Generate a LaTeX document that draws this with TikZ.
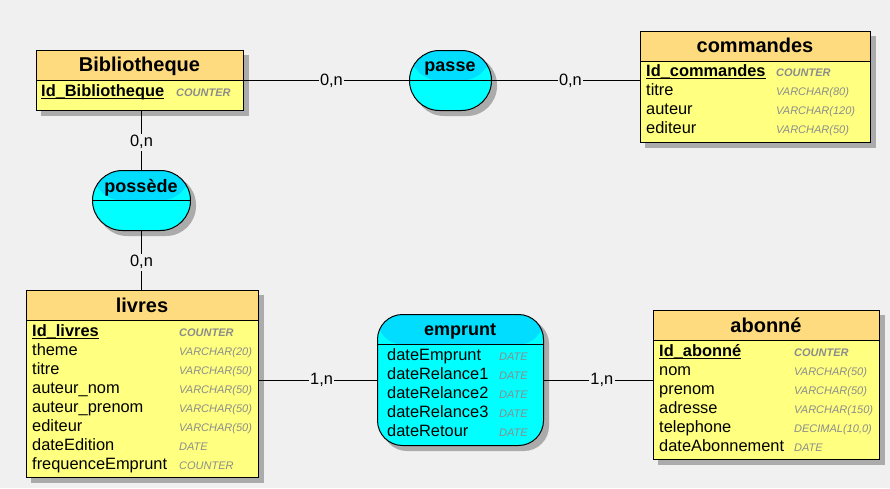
\documentclass[tikz,border=0pt]{standalone}
\usepackage{fontspec}
\setmainfont{Liberation Sans}
\usetikzlibrary{backgrounds}

\definecolor{bg}{HTML}{F0F0F0}
\definecolor{enthdr}{HTML}{FFDB80}
\definecolor{entbody}{HTML}{FFFF80}
\definecolor{relhdr}{HTML}{00DDFF}
\definecolor{relbody}{HTML}{00FFFF}
\definecolor{typegray}{HTML}{8C8C8C}
\definecolor{shadowgray}{HTML}{ABABAB}

\tikzset{
  box/.style={draw=black, line width=1pt, anchor=north west, inner sep=0pt},
  header/.style={path picture={
      \fill[#1] (path picture bounding box.north west)
        rectangle ([yshift=-30pt]path picture bounding box.north east);
      \draw[line width=1pt] ([yshift=-30pt]path picture bounding box.north west)
        -- ([yshift=-30pt]path picture bounding box.north east);}},
  entity/.style={box, fill=entbody, header=enthdr},
  relation/.style={box, fill=relbody, header=relhdr},
  title/.style={anchor=base, inner sep=0pt, font=\fontsize{20}{24}\selectfont\bfseries},
  reltitle/.style={anchor=base, inner sep=0pt, font=\fontsize{18}{22}\selectfont\bfseries},
  attr/.style={anchor=base west, inner sep=0pt, font=\fontsize{16.4}{19}\selectfont},
  keyattr/.style={anchor=base west, inner sep=0pt, font=\fontsize{16.4}{19}\selectfont\bfseries},
  type/.style={anchor=base west, inner sep=0pt, text=typegray, font=\fontsize{11}{13}\selectfont\itshape},
  keytype/.style={anchor=base west, inner sep=0pt, text=typegray, font=\fontsize{11}{13}\selectfont\bfseries\itshape},
  card/.style={fill=bg, inner sep=1.5pt, pos=0.53, font=\fontsize{16.4}{19}\selectfont},
  link/.style={line width=1pt},
  keyline/.style={line width=1.2pt},
  shade/.style={fill=shadowgray},
}

\begin{document}
\begin{tikzpicture}[x=1pt,y=-1pt]
\useasboundingbox (0,0) rectangle (890,488);

% ---------- entities ----------
\node[entity, minimum width=207, minimum height=60] (bib) at (36,50) {};
\node[title] (bibT) at (139.5,71) {Bibliotheque};
\node[keyattr] (bibK) at (41,96) {Id\_Bibliotheque};
\node[keytype] (bibKt) at (176,96) {COUNTER};

\node[entity, minimum width=230, minimum height=111] (cmd) at (640,31) {};
\node[title] (cmdT) at (755,52) {commandes};
\node[keyattr] (cmdK) at (646,76) {Id\_commandes};
\node[keytype] (cmdKt) at (776,76) {COUNTER};
\node[attr] (cmd1) at (646,95) {titre};
\node[type] (cmd1t) at (776,95) {VARCHAR(80)};
\node[attr] (cmd2) at (646,114) {auteur};
\node[type] (cmd2t) at (776,114) {VARCHAR(120)};
\node[attr] (cmd3) at (646,133) {editeur};
\node[type] (cmd3t) at (776,133) {VARCHAR(50)};

\node[entity, minimum width=232, minimum height=187] (liv) at (26,290) {};
\node[title] (livT) at (142,312) {livres};
\node[keyattr] (livK) at (32,336) {Id\_livres};
\node[keytype] (livKt) at (179,336) {COUNTER};
\node[attr] (liv1) at (32,355) {theme};
\node[type] (liv1t) at (179,355) {VARCHAR(20)};
\node[attr] (liv2) at (32,374) {titre};
\node[type] (liv2t) at (179,374) {VARCHAR(50)};
\node[attr] (liv3) at (32,393) {auteur\_nom};
\node[type] (liv3t) at (179,393) {VARCHAR(50)};
\node[attr] (liv4) at (32,412) {auteur\_prenom};
\node[type] (liv4t) at (179,412) {VARCHAR(50)};
\node[attr] (liv5) at (32,431) {editeur};
\node[type] (liv5t) at (179,431) {VARCHAR(50)};
\node[attr] (liv6) at (32,450) {dateEdition};
\node[type] (liv6t) at (179,450) {DATE};
\node[attr] (liv7) at (32,469) {frequenceEmprunt};
\node[type] (liv7t) at (179,469) {COUNTER};

\node[entity, minimum width=226, minimum height=149] (abo) at (653,310) {};
\node[title] (aboT) at (766,332) {abonné};
\node[keyattr] (aboK) at (659,356) {Id\_abonné};
\node[keytype] (aboKt) at (794,356) {COUNTER};
\node[attr] (abo1) at (659,375) {nom};
\node[type] (abo1t) at (794,375) {VARCHAR(50)};
\node[attr] (abo2) at (659,394) {prenom};
\node[type] (abo2t) at (794,394) {VARCHAR(50)};
\node[attr] (abo3) at (659,413) {adresse};
\node[type] (abo3t) at (794,413) {VARCHAR(150)};
\node[attr] (abo4) at (659,432) {telephone};
\node[type] (abo4t) at (794,432) {DECIMAL(10,0)};
\node[attr] (abo5) at (659,451) {dateAbonnement};
\node[type] (abo5t) at (794,451) {DATE};

% underlined identifiers
\foreach \k in {bibK,cmdK,livK,aboK}
  \draw[keyline] ([yshift=-2.6pt]\k.base west) -- ([yshift=-2.6pt]\k.base east);

% ---------- relations ----------
\node[relation, rounded corners=30, minimum width=82, minimum height=60] (passe) at (409,50) {};
\node[reltitle] (passeT) at (450,71) {passe};

\node[relation, rounded corners=30, minimum width=98, minimum height=60] (poss) at (92,170) {};
\node[reltitle] (possT) at (141,192) {possède};

\node[relation, rounded corners=25, minimum width=166, minimum height=131] (emp) at (377,314) {};
\node[reltitle] (empT) at (460,335.5) {emprunt};
\node[attr] (emp1) at (387,360) {dateEmprunt};
\node[type] (emp1t) at (499,360) {DATE};
\node[attr] (emp2) at (387,379) {dateRelance1};
\node[type] (emp2t) at (499,379) {DATE};
\node[attr] (emp3) at (387,398) {dateRelance2};
\node[type] (emp3t) at (499,398) {DATE};
\node[attr] (emp4) at (387,417) {dateRelance3};
\node[type] (emp4t) at (499,417) {DATE};
\node[attr] (emp5) at (387,436) {dateRetour};
\node[type] (emp5t) at (499,436) {DATE};

% ---------- links with cardinalities ----------
\draw[link] (bib.east) -- node[card] (c1) {0,n} (passe.west);
\draw[link] (passe.east) -- node[card] (c2) {0,n} (passe.east -| cmd.west);
\draw[link] (poss.north |- bib.south) -- node[card] (c3) {0,n} (poss.north);
\draw[link] (poss.south) -- node[card] (c4) {0,n} (poss.south |- liv.north);
\draw[link] (emp.west -| liv.east) -- node[card] (c5) {1,n} (emp.west);
\draw[link] (emp.east) -- node[card] (c6) {1,n} (emp.east -| abo.west);

% ---------- canvas and drop shadows ----------
\begin{scope}[on background layer]
  \fill[bg] (0,0) rectangle (890,488);
  \foreach \n in {bib,cmd,liv,abo}
    \fill[shade] ([shift={(5,5)}]\n.north west) rectangle ([shift={(5,5)}]\n.south east);
  \fill[shade, rounded corners=30] ([shift={(5,5)}]passe.north west) rectangle ([shift={(5,5)}]passe.south east);
  \fill[shade, rounded corners=30] ([shift={(5,5)}]poss.north west) rectangle ([shift={(5,5)}]poss.south east);
  \fill[shade, rounded corners=25] ([shift={(5,5)}]emp.north west) rectangle ([shift={(5,5)}]emp.south east);
\end{scope}
\end{tikzpicture}
\end{document}
